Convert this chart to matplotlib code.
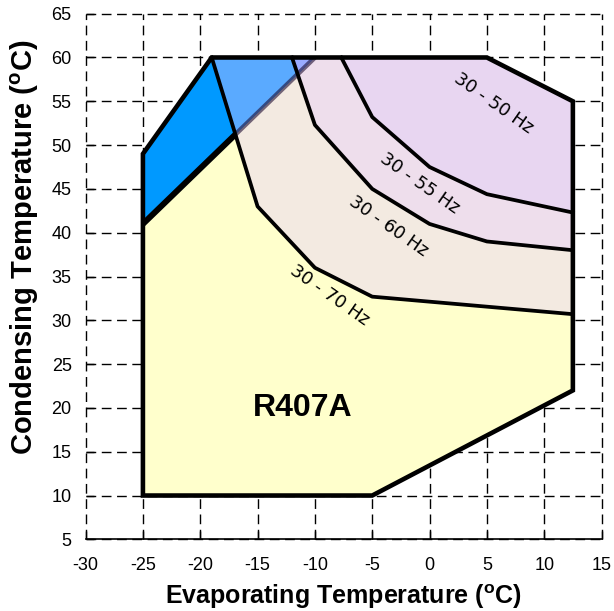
import numpy as np
import matplotlib.pyplot as plt
from matplotlib.patches import Polygon

plt.rcParams['font.family'] = ['Liberation Sans', 'DejaVu Sans']
plt.rcParams['mathtext.fontset'] = 'custom'
plt.rcParams['mathtext.rm'] = 'Liberation Sans'
plt.rcParams['mathtext.bf'] = 'Liberation Sans:bold'
plt.rcParams['axes.unicode_minus'] = False

# operating envelope (evaporating, condensing)
env_x = [-25, -5, 12.5, 12.5, 5, -19, -25]
env_y = [10, 10, 22, 55, 60, 60, 49]

# frequency limit lines
hz70_x = [-19, -15, -10, -5, 12.5]
hz70_y = [60, 43, 36, 32.7, 30.7]
hz60_x = [-12, -10, -5, 0, 5, 12.5]
hz60_y = [60, 52.3, 45, 41, 39, 38]
hz55_x = [-7.7, -5, 0, 5, 12.5]
hz55_y = [60, 53.2, 47.5, 44.4, 42.3]
# top right corner shared by the zones
corner_x = [12.5, 5]
corner_y = [55, 60]

# blue zone (upper left)
blue_x = [-25, -10, -19, -25]
blue_y = [41, 60, 60, 49]

labels = ['30 - 50 Hz', '30 - 55 Hz', '30 - 60 Hz', '30 - 70 Hz']
label_x = [5.6, -0.9, -3.6, -8.7]
label_y = [54.8, 45.6, 40.7, 32.8]

fig = plt.figure(figsize=(6.14, 6.11), dpi=100)
ax = fig.add_axes([0.1394, 0.1173, 0.8403, 0.8603])


def zone(xs, ys):
    return np.column_stack([xs + corner_x, ys + corner_y])


ax.add_patch(Polygon(np.column_stack([env_x, env_y]), closed=True,
                     facecolor='#FFFFCC', edgecolor='none', zorder=2))
z70 = Polygon(zone(hz70_x, hz70_y), closed=True, facecolor='#F3EAE1',
              edgecolor='none', zorder=2)
z60 = Polygon(zone(hz60_x, hz60_y), closed=True, facecolor='#EEDEEC',
              edgecolor='none', zorder=2)
z55 = Polygon(zone(hz55_x, hz55_y), closed=True, facecolor='#E8D6F1',
              edgecolor='none', zorder=2)
for p in (z70, z60, z55):
    ax.add_patch(p)

# blue zone, shaded differently over each frequency zone
blue_xy = np.column_stack([blue_x, blue_y])
ax.add_patch(Polygon(blue_xy, closed=True, facecolor='#0099FF',
                     edgecolor='none', zorder=3))
for col, clip in (('#5AAAFF', z70), ('#99ABFF', z60)):
    b = Polygon(blue_xy, closed=True, facecolor=col, edgecolor='none', zorder=3)
    ax.add_patch(b)
    b.set_clip_path(clip)

# diagonal edge of the blue zone: solid in the yellow part, faint above
left70 = Polygon(np.column_stack([hz70_x + [12.5, -25, -25],
                                  hz70_y + [5, 5, 65]]),
                 closed=True, facecolor='none', edgecolor='none')
ax.add_patch(left70)
d1, = ax.plot(blue_x[:2], blue_y[:2], color='black', lw=4.3, zorder=4,
              solid_capstyle='butt')
d1.set_clip_path(left70)
d2, = ax.plot(blue_x[:2], blue_y[:2], color='#1a0a30', alpha=0.6, lw=3.4,
              zorder=4, solid_capstyle='butt')
d2.set_clip_path(z70)

for xs, ys in ((hz70_x, hz70_y), (hz60_x, hz60_y), (hz55_x, hz55_y)):
    ax.plot(xs, ys, color='black', lw=2.7, zorder=5)

ax.add_patch(Polygon(np.column_stack([env_x, env_y]), closed=True,
                     facecolor='none', edgecolor='black', lw=3.3,
                     joinstyle='miter', zorder=6))

for t, x, y in zip(labels, label_x, label_y):
    ax.text(x, y, t, rotation=-35, ha='center', va='center', fontsize=13,
            family='DejaVu Sans', rotation_mode='anchor', zorder=7)

ax.text(-11.1, 20.0, 'R407A', fontsize=23, fontweight='bold',
        ha='center', va='center', zorder=7)

ax.set_xlim(-30, 15)
ax.set_ylim(5, 65)
ax.set_xticks(np.arange(-30, 16, 5))
ax.set_yticks(np.arange(5, 66, 5))
ax.grid(True, color='black', lw=1, ls=(0, (7, 4)), zorder=1)
for gl in ax.get_xgridlines() + ax.get_ygridlines():
    gl.set_clip_on(False)
for s in ('top', 'right', 'left'):
    ax.spines[s].set_visible(False)
ax.spines['bottom'].set_linewidth(1.2)
ax.tick_params(direction='in', length=6, width=1, labelsize=13)
ax.tick_params(axis='x', pad=13)
ax.tick_params(axis='y', pad=10)
ax.set_axisbelow(True)

ax.set_xlabel(r'Evaporating Temperature ($\mathbf{^o}$C)', fontsize=18,
              fontweight='bold', labelpad=6)
ax.set_ylabel(r'Condensing Temperature ($\mathbf{^o}$C)', fontsize=21,
              fontweight='bold')
ax.yaxis.set_label_coords(-0.086, 0.556)

fig.savefig('out.png', dpi=100)
